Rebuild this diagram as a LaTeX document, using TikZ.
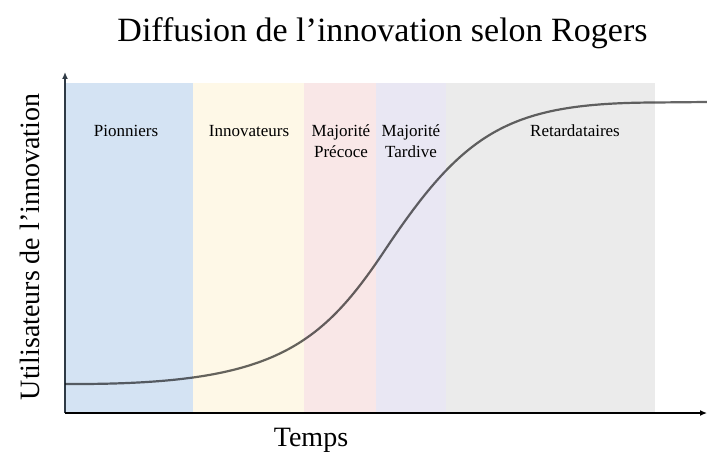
\documentclass[tikz,border=0pt]{standalone}
\usepackage{fontspec}
\setmainfont{Liberation Serif}
\usetikzlibrary{arrows.meta}
\definecolor{cblue}{HTML}{D4E3F3}
\definecolor{cyellow}{HTML}{FEF8E7}
\definecolor{cpink}{HTML}{F9E7E7}
\definecolor{clav}{HTML}{E9E7F3}
\definecolor{cgrey}{HTML}{EBEBEB}
\definecolor{caxis}{HTML}{2F3A45}
\tikzset{
  band/.style={draw=none},
  lab/.style={font=\fontsize{17}{21}\selectfont, inner sep=0pt, anchor=base},
  axisline/.style={draw=caxis, line width=1.3pt, -{Latex[length=7pt,width=6pt]}},
  curve/.style={draw=black, draw opacity=0.6, line width=2.2pt, line cap=round}
}
\begin{document}
\begin{tikzpicture}[x=1pt,y=-1pt]
\useasboundingbox (0,0) rectangle (707,452);
% bands
\fill[cblue]   (66,83) rectangle (193,413);
\fill[cyellow] (193,83) rectangle (304,413);
\fill[cpink]   (304,83) rectangle (376,413);
\fill[clav]    (376,83) rectangle (446,413);
\fill[cgrey]   (446,83) rectangle (655,413);
% axes
\coordinate (o) at (65,413);
\coordinate (ytop) at (65,72);
\coordinate (xend) at (707,413);
\draw[axisline] (o) -- (ytop);
\draw[axisline, draw=black] (o) -- (xend);
% curve
\coordinate (c0) at (66,384);
\coordinate (cm) at (385,250);
\coordinate (c1) at (655,102.5);
\coordinate (c2) at (707,102);
\draw[curve] (c0) .. controls (268,385) and (318,351) .. (cm)
  .. controls (465,130) and (510,103) .. (c1) -- (c2);
% labels
\node[lab] (p1) at (126,136) {Pionniers};
\node[lab] (p2) at (249,136) {Innovateurs};
\node[lab] (p3a) at (341,136) {Majorité};
\node[lab] (p3b) at (341,157) {Précoce};
\node[lab] (p4a) at (411,136) {Majorité};
\node[lab] (p4b) at (411,157) {Tardive};
\node[lab] (p5) at (575,136) {Retardataires};
% titles
\node[font=\fontsize{34}{38}\selectfont, inner sep=0pt] (title) at (382.5,33) {Diffusion de l’innovation selon Rogers};
\node[font=\fontsize{28}{32}\selectfont, inner sep=0pt, rotate=90] (ylab) at (30,247) {Utilisateurs de l’innovation};
\node[font=\fontsize{28}{32}\selectfont, inner sep=0pt] (xlab) at (311,440) {Temps};
\end{tikzpicture}
\end{document}
